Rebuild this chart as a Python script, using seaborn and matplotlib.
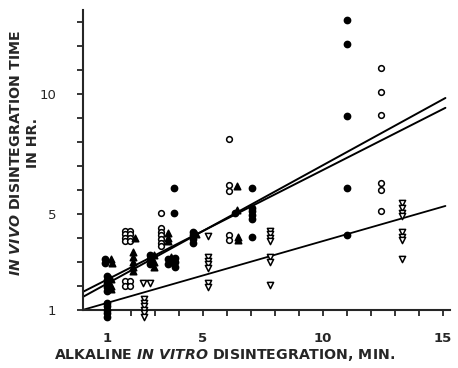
import numpy as np
import pandas as pd
import matplotlib
matplotlib.use("Agg")
import matplotlib.pyplot as plt
import seaborn as sns

# Data (x: alkaline in vitro min, y: in vivo hr)
filled_circle_x = [0.9, 0.9, 1.0, 1.0, 1.0, 1.0, 1.0, 1.0, 1.0, 1.0, 1.0, 1.0,
                   2.8, 2.8, 2.8, 3.55, 3.55, 3.85, 3.85, 3.85, 3.8, 3.8,
                   4.6, 4.6, 4.6, 4.6, 6.35, 7.05, 7.05, 7.05, 7.05, 7.05, 7.05,
                   11.0, 11.0, 11.0, 11.0, 11.0]
filled_circle_y = [3.1, 2.95, 2.4, 2.25, 2.1, 1.95, 1.8, 1.3, 1.15, 1.0, 0.85, 0.7,
                   3.3, 3.1, 2.9, 3.1, 2.9, 3.15, 3.0, 2.8, 6.08, 5.04,
                   4.25, 4.1, 3.95, 3.8, 5.05, 6.08, 5.25, 5.1, 4.95, 4.8, 4.04,
                   13.1, 12.08, 9.08, 6.08, 4.12]

open_circle_x = [1.75, 1.75, 1.75, 1.75, 1.95, 1.95, 1.95, 1.95,
                 1.75, 1.75, 1.95, 1.95,
                 3.25, 3.25, 3.25, 3.25, 3.25, 3.25, 3.25,
                 6.1, 6.1, 6.1, 6.1, 6.1,
                 12.4, 12.4, 12.4, 12.4, 12.4, 12.4]
open_circle_y = [4.3, 4.15, 4.0, 3.85, 4.3, 4.15, 4.0, 3.85,
                 2.2, 2.0, 2.2, 2.0,
                 5.04, 4.4, 4.25, 4.1, 3.95, 3.8, 3.65,
                 8.12, 6.2, 5.95, 4.1, 3.9,
                 11.08, 10.08, 9.13, 6.29, 6.0, 5.13]

filled_tri_x = [1.15, 1.2, 1.15, 1.15, 1.15, 2.15,
                2.1, 2.1, 2.1, 2.1, 2.1,
                2.95, 2.95, 2.95, 3.55, 3.55, 3.55, 3.65, 3.65,
                4.7, 6.4, 6.4, 6.45, 6.45]
filled_tri_y = [3.1, 2.95, 2.3, 2.0, 1.85, 4.0,
                3.4, 3.2, 3.0, 2.8, 2.6,
                3.3, 3.0, 2.8, 4.2, 4.0, 3.85, 3.2, 3.0,
                4.15, 6.15, 5.15, 4.05, 3.9]

open_tri_x = [2.5, 2.8, 2.55, 2.55, 2.55, 2.55, 2.55, 2.55,
              5.2, 5.2, 5.2, 5.2, 5.2, 5.2, 5.2,
              7.8, 7.8, 7.8, 7.8, 7.8, 7.8, 7.8,
              13.3, 13.3, 13.3, 13.3, 13.3, 13.3, 13.3, 13.3]
open_tri_y = [2.1, 2.1, 1.45, 1.3, 1.15, 1.0, 0.85, 0.7,
              4.08, 3.2, 3.05, 2.9, 2.75, 2.1, 1.95,
              4.3, 4.15, 4.0, 3.85, 3.2, 3.0, 2.04,
              5.45, 5.25, 5.05, 4.9, 4.25, 4.05, 3.9, 3.13]

# fitted lines (end points)
line_x = [0.0, 15.1]
line_upper_a = [1.75, 9.42]
line_upper_b = [1.54, 9.83]
line_lower = [1.0, 5.33]

sns.set_style("ticks")
plt.rcParams['font.family'] = ['DejaVu Sans']
plt.rcParams['mathtext.fontset'] = 'custom'
plt.rcParams['mathtext.it'] = 'DejaVu Sans:italic:bold'
plt.rcParams['mathtext.rm'] = 'DejaVu Sans:bold'

fig = plt.figure(figsize=(4.58, 3.68), dpi=100)
ax = fig.add_axes([0.181, 0.158, 0.802, 0.815])

groups = [
    (filled_circle_x, filled_circle_y, "o", "black", 20),
    (open_circle_x, open_circle_y, "o", "white", 17),
    (filled_tri_x, filled_tri_y, "^", "black", 22),
    (open_tri_x, open_tri_y, "v", "white", 20),
]
for xs, ys, m, fc, s in groups:
    d = pd.DataFrame({"x": xs, "y": ys})
    sns.scatterplot(data=d, x="x", y="y", marker=m, color=fc, edgecolor="black",
                    linewidth=1.1, s=s, ax=ax, clip_on=False, zorder=3)

for ly, lw in [(line_upper_a, 1.4), (line_upper_b, 1.4), (line_lower, 1.3)]:
    sns.lineplot(x=line_x, y=ly, color="black", linewidth=lw, ax=ax, clip_on=False)

ax.set_xlim(0, 15.3)
ax.set_ylim(1, 13.5)
ax.set_xticks([1, 5, 10, 15])
ax.set_xticks(np.arange(1, 16), minor=True)
ax.set_yticks([1, 5, 10])
ax.set_yticks(np.arange(1, 14), minor=True)
ax.set_xticklabels(["1", "5", "10", "15"], fontsize=9.5, fontweight="bold")
ax.set_yticklabels(["1", "5", "10"], fontsize=9.5)
ax.tick_params(axis="x", which="both", length=4, width=1.3, pad=12, direction="out")
ax.tick_params(axis="y", which="both", length=4, width=1.3, pad=15, direction="out")
ax.set_xlabel("")
ax.set_ylabel("")

sns.despine(ax=ax)
for sp in ["left", "bottom"]:
    ax.spines[sp].set_linewidth(1.5)

fig.text(0.49, 0.035, r"ALKALINE $\mathit{IN\ VITRO}$ DISINTEGRATION, MIN.",
         ha="center", va="center", fontsize=10.2, fontweight="bold")
fig.text(0.035, 0.585, r"$\mathit{IN\ VIVO}$ DISINTEGRATION TIME",
         ha="center", va="center", rotation=90, fontsize=10.2, fontweight="bold")
fig.text(0.071, 0.612, "IN HR.", ha="center", va="center", rotation=90,
         fontsize=10.2, fontweight="bold")

plt.savefig("out.png", dpi=100)
